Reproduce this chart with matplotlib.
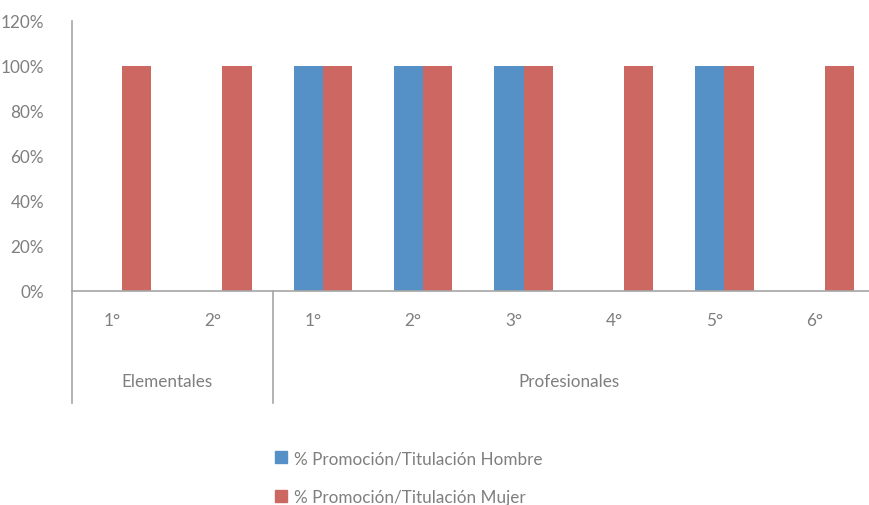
import numpy as np
import matplotlib.pyplot as plt
from matplotlib.patches import Patch

# data
categorias = ['1°', '2°', '1°', '2°', '3°', '4°', '5°', '6°']
grupos = ['Elementales', 'Profesionales']
grupo_tam = [2, 6]
hombre = [0, 0, 100, 100, 100, 0, 100, 0]
mujer = [100, 100, 100, 100, 100, 100, 100, 100]
yticks = [0, 20, 40, 60, 80, 100, 120]

c_h = '#5591c6'
c_m = '#cd6762'
gris = '#7f7f7f'
linea = '#a6a6a6'
fs = 12.3

plt.rcParams['font.family'] = ['Lato', 'DejaVu Sans']

W, H = 869, 506
fig = plt.figure(figsize=(W / 100, H / 100), dpi=100)
ax = fig.add_axes([71.8 / W, 1 - 292 / H, (875 - 71.8) / W, (292 - 22) / H])

x = np.arange(len(categorias))
bw = 0.29
ax.bar(x - bw / 2, hombre, bw, color=c_h, label='% Promoción/Titulación Hombre')
ax.bar(x + bw / 2, mujer, bw, color=c_m, label='% Promoción/Titulación Mujer')

ax.set_xlim(-0.5, len(categorias) - 0.5)
ax.set_ylim(0, 120)
ax.set_yticks(yticks)
ax.set_yticklabels([f'{v}%' for v in yticks], color=gris, fontsize=fs)
ax.tick_params(axis='y', length=0, pad=20)
ax.set_xticks([])
for s in ['top', 'right']:
    ax.spines[s].set_visible(False)
for s in ['left', 'bottom']:
    ax.spines[s].set_color(linea)
    ax.spines[s].set_linewidth(1.2)

# category labels
trans = ax.get_xaxis_transform()
for i, c in enumerate(categorias):
    ax.text(i - 0.1, -29 / 270, c, transform=trans, ha='center', va='center',
            color=gris, fontsize=fs, clip_on=False)

# group labels and separators
y_bot = -(404 - 292) / 270
inicio = 0
sep = [-0.5]
for g, n in zip(grupos, grupo_tam):
    centro = inicio + n / 2 - 0.5
    ax.text(centro - 0.05, -(382 - 292) / 270, g, transform=trans, ha='center', va='center',
            color=gris, fontsize=fs, clip_on=False)
    inicio += n
    sep.append(inicio - 0.5)
for s in sep[:-1]:
    ax.plot([s, s], [0, y_bot], transform=trans, color=linea, lw=1.2, clip_on=False)

handles = [Patch(color=c_h), Patch(color=c_m)]
etiquetas = ['% Promoción/Titulación Hombre', '% Promoción/Titulación Mujer']
fig.legend(handles, etiquetas, loc='upper left', bbox_to_anchor=(260 / W, 1 - 436 / H),
           frameon=False, handlelength=0.7, handleheight=0.7, handletextpad=0.4,
           labelspacing=1.3, fontsize=fs, labelcolor=gris)

fig.savefig('out.png', dpi=100)
